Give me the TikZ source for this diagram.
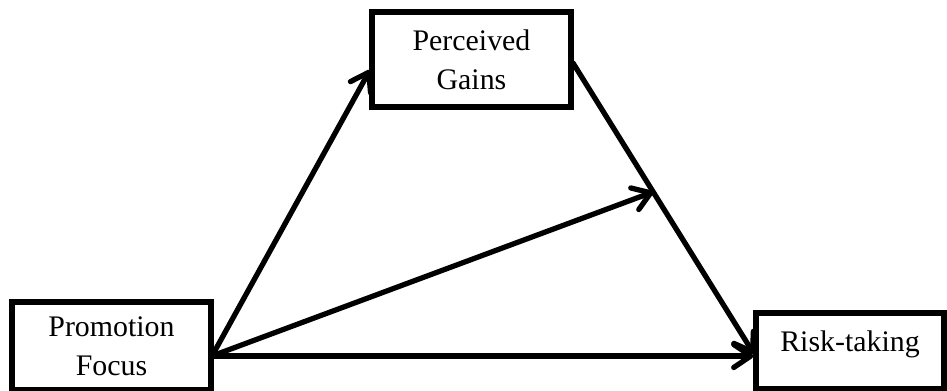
\documentclass[tikz,border=0pt]{standalone}
\usepackage{fontspec}
\setmainfont{LiberationSerif}[Extension=.ttf, UprightFont=*-Regular]
\usetikzlibrary{arrows.meta,calc}

\begin{document}
\begin{tikzpicture}[x=0.02cm, y=-0.02cm,
  box/.style={draw=black, line width=3pt, fill=white, align=center,
    font=\rmfamily\fontsize{17}{22.2}\selectfont, inner sep=0pt},
  arrow/.style={-{Straight Barb[length=0.34cm, width=0.46cm, round]},
    line width=3pt, line cap=round, draw=black}
]
\useasboundingbox (0,0) rectangle (947,391);

\node[box, minimum width=3.98cm, minimum height=1.76cm] (promo) at (111.5,346) {Promotion\\Focus};
\node[box, minimum width=3.98cm, minimum height=1.9cm] (gains) at (471.5,59.5) {Perceived\\Gains};
\node[box, minimum width=3.76cm, minimum height=1.52cm,
  text height=0.42cm, text depth=0.38cm] (risk) at (850,351) {Risk-taking};

\coordinate (src) at (212,356);
\coordinate (gin) at (370,70);
\coordinate (gout) at (573,63);
\coordinate (rin) at (754,354);
\coordinate (rmid) at ($(gout)!0.443!(rin)$);

\draw[arrow] (src) -- (gin);
\draw[arrow] (gout) -- (rin);
\draw[arrow] (src) -- (rmid);
\draw[arrow] (src) -- (src -| risk.west);
\end{tikzpicture}
\end{document}
